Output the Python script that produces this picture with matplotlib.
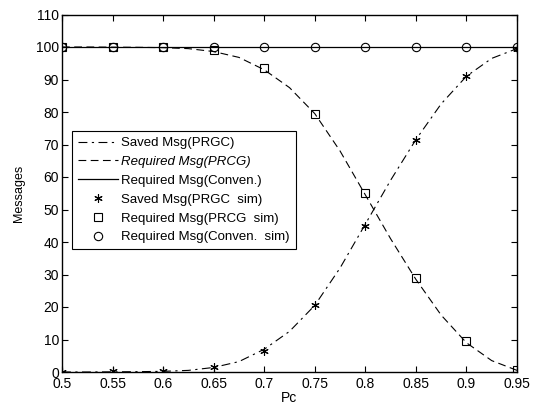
import matplotlib
matplotlib.use("Agg")
import matplotlib.pyplot as plt

plt.rcParams['font.family'] = ['Liberation Sans', 'DejaVu Sans']

pc_sim = [0.5, 0.55, 0.6, 0.65, 0.7, 0.75, 0.8, 0.85, 0.9, 0.95]
saved_sim = [0.0, 0.2, 0.3, 1.5, 6.5, 20.5, 45.0, 71.5, 91.0, 99.5]
required_sim = [100.0, 100.0, 100.0, 99.0, 93.5, 79.5, 55.0, 29.0, 9.5, 0.5]
conven_sim = [100, 100, 100, 100, 100, 100, 100, 100, 100, 100]

pc_line = [0.5, 0.525, 0.55, 0.575, 0.6, 0.625, 0.65, 0.675, 0.7, 0.725, 0.75,
           0.775, 0.8, 0.825, 0.85, 0.875, 0.9, 0.925, 0.95]
saved_line = [0.0, 0.0, 0.05, 0.1, 0.2, 0.5, 1.4, 3.2, 7.0, 12.5, 20.5,
              32.0, 45.5, 59.0, 71.5, 82.5, 91.0, 96.5, 99.5]
required_line = [100.0, 100.0, 99.95, 99.9, 99.8, 99.5, 98.6, 96.8, 93.0, 87.5, 79.5,
                 68.0, 54.5, 41.0, 28.5, 17.5, 9.0, 3.5, 0.5]
conven_line = [100] * 19

fig = plt.figure(figsize=(5.39, 4.05), dpi=100)
ax = fig.add_axes([62/539, 1 - 372/405, (517-62)/539, (372-14.5)/405])

ax.plot(pc_line, saved_line, color='black', lw=0.8, ls=(0, (8, 4, 2, 4)), label='Saved Msg(PRGC)')
ax.plot(pc_line, required_line, color='black', lw=0.8, ls=(0, (7, 4)), label='Required Msg(PRCG)')
ax.plot(pc_line, conven_line, color='black', lw=0.9, ls='-', label='Required Msg(Conven.)')
ax.plot(pc_sim, saved_sim, ls='none', marker=(6, 2, 0), color='black', ms=6, mew=0.8,
        label='Saved Msg(PRGC  sim)')
ax.plot(pc_sim, required_sim, ls='none', marker='s', color='black', ms=6, mew=0.8,
        markerfacecolor='none', label='Required Msg(PRCG  sim)')
ax.plot(pc_sim, conven_sim, ls='none', marker='o', color='black', ms=6, mew=0.8,
        markerfacecolor='none', label='Required Msg(Conven.  sim)')

ax.set_xlim(0.5, 0.95)
ax.set_ylim(0, 110)
ax.set_xticks(pc_sim)
ax.set_xticklabels(['0.5', '0.55', '0.6', '0.65', '0.7', '0.75', '0.8', '0.85', '0.9', '0.95'])
ax.set_yticks(range(0, 111, 10))
ax.tick_params(direction='in', top=True, right=True, labelsize=10, length=4, width=0.8)
ax.tick_params(axis='y', pad=2)
for s in ax.spines.values():
    s.set_linewidth(1.0)
ax.set_xlabel('Pc', fontsize=10, labelpad=0)
ax.set_ylabel('Messages', fontsize=9, labelpad=8)

leg = ax.legend(loc='upper left', bbox_to_anchor=((72-62)/455, (372-131)/357.5),
                fontsize=9.5, frameon=True, fancybox=False, edgecolor='black',
                framealpha=1, borderpad=0.45, labelspacing=0.5, handlelength=3.0,
                handletextpad=0.3, borderaxespad=0)
leg.get_frame().set_linewidth(0.8)
leg.get_texts()[1].set_style('italic')

fig.savefig('out.png', dpi=100)
